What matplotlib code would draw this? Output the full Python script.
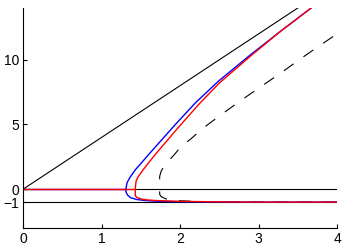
import matplotlib
matplotlib.use("Agg")
import matplotlib.pyplot as plt

plt.rcParams["font.family"] = ["Liberation Sans", "DejaVu Sans"]

# straight reference lines
diag_x = [0, 3.5]
diag_y = [0, 14]
levels = [0, -1]

# trivial branches along y = 0
blue_triv_x = [0, 1.31]
red_triv_x = [0, 1.43]

# bifurcating branches (top to bottom)
blue_x = [3.67, 3.28, 2.9, 2.49, 2.2, 2.07, 1.94, 1.83, 1.72, 1.61, 1.51, 1.43, 1.36, 1.325, 1.31, 1.31, 1.33, 1.37, 1.45, 1.56, 1.70, 2.0, 2.5, 3.0, 4.0]
blue_y = [14.0, 12.2, 10.4, 8.35, 6.7, 5.85, 5.0, 4.25, 3.5, 2.75, 2.05, 1.5, 0.9, 0.5, 0.05, -0.2, -0.45, -0.66, -0.8, -0.88, -0.93, -0.97, -0.99, -1.0, -1.0]

red_x = [3.67, 3.28, 2.91, 2.50, 2.23, 2.10, 1.96, 1.87, 1.77, 1.68, 1.60, 1.53, 1.47, 1.44, 1.43, 1.43, 1.45, 1.50, 1.58, 1.70, 2.0, 2.5, 3.0, 4.0]
red_y = [14.0, 12.2, 10.35, 8.2, 6.5, 5.6, 4.65, 4.0, 3.3, 2.65, 2.05, 1.5, 1.0, 0.64, 0.1, -0.5, -0.64, -0.75, -0.83, -0.88, -0.94, -0.98, -1.0, -1.0]

dash_x = [3.95, 3.6, 3.3, 3.0, 2.75, 2.5, 2.3, 2.14, 2.02, 1.91, 1.81, 1.76, 1.74, 1.74, 1.76, 1.82, 1.95, 2.2, 2.6, 3.0, 4.0]
dash_y = [11.8, 10.35, 9.05, 7.8, 6.75, 5.65, 4.75, 3.9, 3.33, 2.56, 1.9, 1.4, 1.0, -0.4, -0.58, -0.75, -0.88, -0.95, -0.98, -1.0, -1.0]

fig = plt.figure(figsize=(3.5, 2.5), dpi=100)
ax = fig.add_axes([0.066, 0.088, 0.897, 0.88])

ax.plot(diag_x, diag_y, color="black", lw=0.8)
for lv in levels:
    ax.axhline(lv, color="black", lw=0.8)
ax.plot(dash_x, dash_y, color="black", lw=0.8, dashes=(10.8, 10.8))
ax.plot(blue_triv_x, [0, 0], color="blue", lw=1.0)
ax.plot(blue_x, blue_y, color="blue", lw=1.0)
ax.plot(red_triv_x, [0, 0], color="red", lw=1.0)
ax.plot(red_x, red_y, color="red", lw=1.0)

ax.set_xlim(0, 4)
ax.set_ylim(-3, 14)
ax.set_xticks([0, 1, 2, 3, 4])
ax.set_yticks([-1, 0, 5, 10])
ax.set_yticklabels(["\u22121", "0", "5", "10"])
ax.spines["top"].set_visible(False)
ax.spines["right"].set_visible(False)
ax.tick_params(direction="in", length=3, width=0.8, labelsize=10, pad=3)

fig.savefig("out.png", dpi=100)
